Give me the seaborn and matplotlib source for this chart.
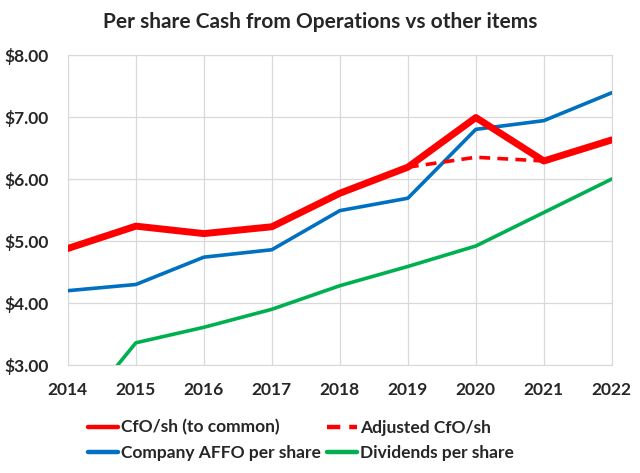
import matplotlib
matplotlib.use("Agg")
import matplotlib.pyplot as plt
import seaborn as sns
import pandas as pd

# values
years = [2014, 2015, 2016, 2017, 2018, 2019, 2020, 2021, 2022]
cfo_sh = [4.88, 5.24, 5.12, 5.23, 5.77, 6.19, 6.99, 6.29, 6.63]
adj_years = [2019, 2020, 2021]
adj_cfo_sh = [6.19, 6.35, 6.29]
affo_sh = [4.20, 4.30, 4.74, 4.86, 5.49, 5.69, 6.80, 6.94, 7.39]
div_sh = [2.02, 3.36, 3.61, 3.90, 4.28, 4.59, 4.92, 5.46, 6.00]
y_ticks = [3, 4, 5, 6, 7, 8]

sns.set_style("white")
plt.rcParams['font.family'] = ['Lato', 'DejaVu Sans']

fig = plt.figure(figsize=(6.4, 4.73), dpi=100)
ax = fig.add_axes([0.106, 0.228, 0.85, 0.656])

main = pd.DataFrame({'year': years, 'cfo': cfo_sh, 'affo': affo_sh, 'div': div_sh})
adj = pd.DataFrame({'year': adj_years, 'adj': adj_cfo_sh})

sns.lineplot(data=main, x='year', y='cfo', ax=ax, color='#FF0000', linewidth=5,
             label='CfO/sh (to common)', zorder=4)
sns.lineplot(data=main, x='year', y='affo', ax=ax, color='#0070C0', linewidth=2.6,
             label='Company AFFO per share', zorder=3)
sns.lineplot(data=adj, x='year', y='adj', ax=ax, color='#FF0000', linewidth=2.6,
             linestyle=(0, (3, 2)), label='Adjusted CfO/sh', zorder=5)
sns.lineplot(data=main, x='year', y='div', ax=ax, color='#00B050', linewidth=2.6,
             label='Dividends per share', zorder=3)

ax.set_xlim(2014, 2022)
ax.set_ylim(3, 8)
ax.set_xticks(years)
ax.set_yticks(y_ticks)
ax.set_yticklabels([f"${v:.2f}" for v in y_ticks])
ax.set_xlabel('')
ax.set_ylabel('')
ax.grid(True, color='#D9D9D9', linewidth=0.9)
for s in ax.spines.values():
    s.set_color('#D9D9D9')
ax.tick_params(axis='both', length=0, labelsize=12.5)
ax.tick_params(axis='y', pad=14)
ax.tick_params(axis='x', pad=12)
for lbl in ax.get_xticklabels() + ax.get_yticklabels():
    lbl.set_fontweight('bold')

fig.suptitle('Per share Cash from Operations vs other items', x=0.5, y=0.975,
             fontsize=15, fontweight='bold')

ax.get_legend().remove()
h, l = ax.get_legend_handles_labels()
leg = fig.legend(h, l, ncol=2, loc='lower center', bbox_to_anchor=(0.47, -0.008),
                 frameon=False, prop={'weight': 'bold', 'size': 12.5},
                 handlelength=1.75, handletextpad=0.15, columnspacing=0.35,
                 labelspacing=0.55)
for line in leg.get_lines():
    line.set_linewidth(3.2)

fig.savefig('out.png', dpi=100, facecolor='white')
